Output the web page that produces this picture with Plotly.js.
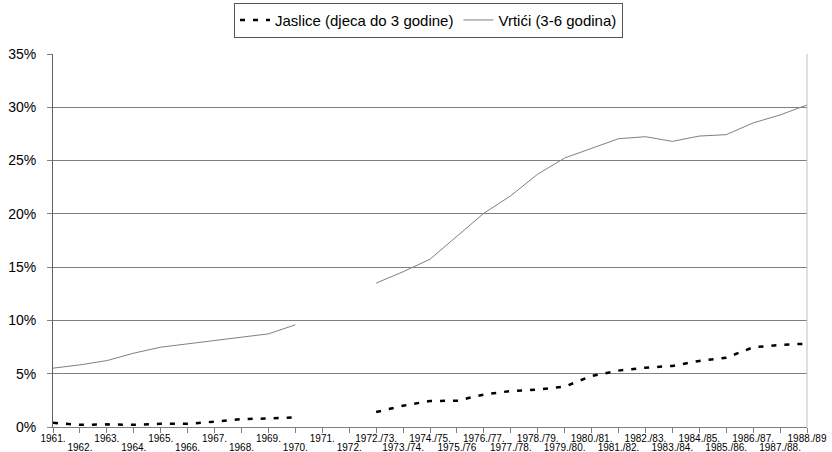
<!DOCTYPE html>
<html>
<head>
<meta charset="utf-8">
<script src="https://cdn.plot.ly/plotly-3.0.1.min.js"></script>
<style>html,body{margin:0;padding:0;background:#fff;}#chart{width:832px;height:452px;}</style>
</head>
<body>
<div id="chart"></div>
<script>
var categories = ["1961.","1962.","1963.","1964.","1965.","1966.","1967.","1968.","1969.","1970.","1971.","1972.",
  "1972./73.","1973./74.","1974./75.","1975./76","1976./77.","1977./78.","1978./79.","1979./80.","1980./81.",
  "1981./82.","1982./83.","1983./84.","1984./85.","1985./86.","1986./87.","1987./88.","1988./89"];

var jaslice = [0.40,0.20,0.25,0.20,0.30,0.30,0.50,0.75,0.80,0.90,null,null,
  1.40,2.00,2.44,2.47,3.04,3.38,3.50,3.79,4.79,5.29,5.57,5.73,6.20,6.50,7.48,7.70,7.82];

var vrtici = [5.52,5.83,6.23,6.93,7.49,7.80,8.10,8.40,8.74,9.59,null,null,
  13.50,14.57,15.74,17.93,20.06,21.70,23.73,25.24,26.11,27.05,27.24,26.80,27.30,27.43,28.53,29.28,30.22];

var yTicks = [0,5,10,15,20,25,30,35];
var yTickLabels = ["0%","5%","10%","15%","20%","25%","30%","35%"];

var seriesNames = ["Jaslice (djeca do 3 godine)", "Vrtići (3-6 godina)"];

var evenText = categories.map(function(c,i){ return i % 2 === 0 ? c : ""; });
var oddIdx = [], oddText = [];
categories.forEach(function(c,i){ if (i % 2 === 1) { oddIdx.push(i); oddText.push(c); } });

var FONT = "Liberation Sans, Arial, sans-serif";

var traces = [
  {
    x: categories, y: jaslice, name: seriesNames[0], type: "scatter", mode: "lines",
    line: {color: "#000000", width: 2.5, dash: "5px,8px"}, connectgaps: false
  },
  {
    x: categories, y: vrtici, name: seriesNames[1], type: "scatter", mode: "lines",
    line: {color: "#808080", width: 1}, connectgaps: false
  },
  {
    // carrier for the second row of category labels (no visible marks)
    x: oddIdx, y: oddIdx.map(function(){ return null; }), xaxis: "x2", yaxis: "y",
    type: "scatter", mode: "lines", showlegend: false, hoverinfo: "skip"
  }
];

var layout = {
  width: 832, height: 452,
  margin: {l: 53, r: 25, t: 54, b: 25},
  paper_bgcolor: "#ffffff", plot_bgcolor: "#ffffff",
  font: {family: FONT, color: "#000000", size: 14},
  showlegend: true,
  legend: {
    orientation: "h", xref: "container", yref: "container",
    x: 0.515, xanchor: "center", y: 0.994, yanchor: "top",
    bordercolor: "#555555", borderwidth: 1,
    font: {family: FONT, size: 15, color: "#000"},
    itemwidth: 30, tracegroupgap: 0
  },
  xaxis: {
    type: "category", range: [0, 28],
    tickmode: "array", tickvals: categories, ticktext: evenText,
    ticks: "outside", ticklen: 5, tickcolor: "#808080", tickwidth: 1,
    showgrid: false, showline: true, linecolor: "#808080", linewidth: 1,
    tickfont: {family: FONT, size: 10, color: "#000"},
    ticklabelstandoff: -3,
    zeroline: false, fixedrange: true
  },
  xaxis2: {
    overlaying: "x", anchor: "y", side: "bottom", type: "linear", range: [0, 28],
    tickmode: "array", tickvals: oddIdx, ticktext: oddText,
    ticks: "", showgrid: false, showline: false, zeroline: false,
    ticklabelstandoff: 13,
    tickfont: {family: FONT, size: 10, color: "#000"}
  },
  yaxis: {
    range: [0, 35], tickmode: "array", tickvals: yTicks, ticktext: yTickLabels,
    ticks: "outside", ticklen: 5, tickcolor: "#808080",
    showgrid: true, gridcolor: "#808080", gridwidth: 1,
    showline: true, linecolor: "#606060", linewidth: 1,
    zeroline: false, ticklabelstandoff: 8,
    tickfont: {family: FONT, size: 14, color: "#000"}, fixedrange: true
  },
  shapes: [
    {type: "line", xref: "paper", yref: "paper", x0: 1, x1: 1, y0: 0, y1: 1,
     line: {color: "#c0c0c0", width: 1}}
  ]
};

Plotly.newPlot("chart", traces, layout, {displayModeBar: false, staticPlot: true});
</script>
</body>
</html>
